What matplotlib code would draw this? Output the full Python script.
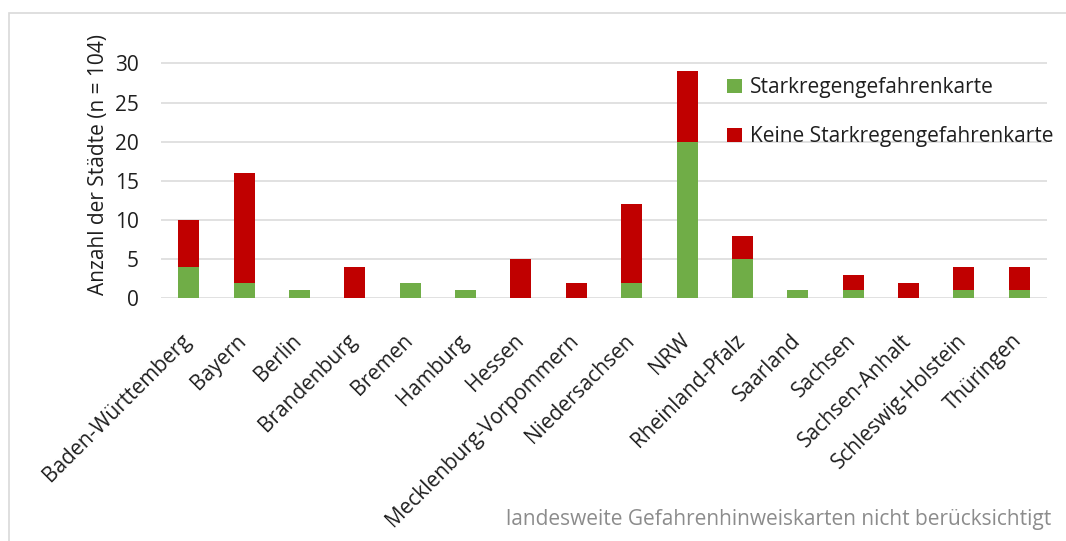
import numpy as np
import matplotlib.pyplot as plt
from matplotlib.patches import Rectangle
from matplotlib.transforms import ScaledTranslation

plt.rcParams['font.family'] = ['Open Sans', 'DejaVu Sans']

laender = ['Baden-Württemberg', 'Bayern', 'Berlin', 'Brandenburg', 'Bremen',
           'Hamburg', 'Hessen', 'Mecklenburg-Vorpommern', 'Niedersachsen', 'NRW',
           'Rheinland-Pfalz', 'Saarland', 'Sachsen', 'Sachsen-Anhalt',
           'Schleswig-Holstein', 'Thüringen']
mit_karte = [4, 2, 1, 0, 2, 1, 0, 0, 2, 20, 5, 1, 1, 0, 1, 1]
ohne_karte = [6, 14, 0, 4, 0, 0, 5, 2, 10, 9, 3, 0, 2, 2, 3, 3]
y_ticks = [0, 5, 10, 15, 20, 25, 30]

GREEN = '#70AD47'
RED = '#C00000'
TXT = '#1F1F1F'
FS = 15
W, H = 1066, 541

fig = plt.figure(figsize=(W / 100, H / 100), dpi=100)
# light frame around the chart area
fig.patches.append(Rectangle((9 / W, -0.05), 1.2, 1 - 13 / H + 0.05,
                             transform=fig.transFigure, fill=False,
                             edgecolor='#D9D9D9', linewidth=1.2))

ax = fig.add_axes([161 / W, 1 - 298.3 / H, 886 / W, (298.3 - 61) / H])
x = np.arange(len(laender))
ax.bar(x, mit_karte, width=0.38, color=GREEN, label='Starkregengefahrenkarte', zorder=3)
ax.bar(x, ohne_karte, width=0.38, bottom=mit_karte, color=RED,
       label='Keine Starkregengefahrenkarte', zorder=3)

ax.set_xlim(-0.5, len(laender) - 0.5)
ax.set_ylim(0, 30.3)
ax.set_yticks(y_ticks)
ax.yaxis.grid(True, color='#D9D9D9', linewidth=1.1, zorder=0)
for s in ax.spines.values():
    s.set_visible(False)
ax.tick_params(axis='both', length=0, labelsize=FS, colors=TXT)
ax.tick_params(axis='y', pad=16)
ax.set_xticks(x)
ax.set_xticklabels(laender, rotation=45, ha='right', rotation_mode='anchor',
                   fontsize=FS, color=TXT)
ax.tick_params(axis='x', pad=23)
shift = ScaledTranslation(-8 / 100, 0, fig.dpi_scale_trans)
for lab in ax.get_xticklabels():
    lab.set_transform(lab.get_transform() + shift)
ax.set_ylabel('Anzahl der Städte (n = 104)', fontsize=FS, color=TXT,
              labelpad=4, y=0.562)

ax.legend(loc='upper left', bbox_to_anchor=(0.639, 0.932), frameon=False,
          borderpad=0, borderaxespad=0, handlelength=0.7, handleheight=0.7,
          handletextpad=0.4, labelspacing=1.35, fontsize=FS,
          labelcolor=TXT)

fig.text(1051 / W, 1 - 519 / H, 'landesweite Gefahrenhinweiskarten nicht berücksichtigt',
         ha='right', va='center', fontsize=FS, color='#8C8C8C')

fig.savefig('out.png', dpi=100)
